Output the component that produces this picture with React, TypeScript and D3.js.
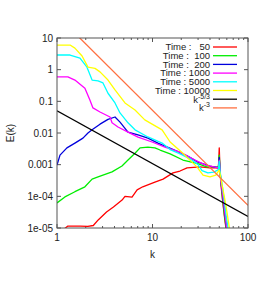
import React from 'react';
import * as d3 from 'd3';

type Pt = [number, number];

// spectra E(k)
const t50: Pt[] = [
  [1, 5e-6], [1.2, 9.5e-6], [1.3, 1.15e-5], [1.75, 1.15e-5], [2.1, 1.12e-5], [2.4, 1.2e-5],
  [2.7, 1.8e-5], [3.3, 3.2e-5], [3.9, 4.6e-5], [4.8, 7.6e-5], [5.15, 1.0e-4], [6.1, 9.5e-5],
  [6.9, 1.6e-4], [7.9, 2.0e-4], [10.6, 2.8e-4], [12.9, 3.5e-4], [16.4, 5.5e-4], [19.4, 6.3e-4],
  [23, 7.9e-4], [31.5, 8.5e-4], [40, 7.9e-4], [49, 7.9e-4], [50, 3.4e-3], [51, 6e-4],
  [52, 2.5e-4], [54, 8e-5], [57, 2e-5], [60, 6e-6],
];
const t100: Pt[] = [
  [1, 6.2e-5], [1.21, 9.6e-5], [1.54, 1.4e-4], [1.96, 2.0e-4], [2.33, 3.5e-4], [2.69, 4.1e-4],
  [3.77, 5.9e-4], [4.79, 9.1e-4], [5.54, 1.4e-3], [6.56, 2.3e-3], [7.4, 3.4e-3], [8.95, 3.6e-3],
  [10.6, 3.4e-3], [12, 2.9e-3], [15.3, 2.2e-3], [20.8, 1.4e-3], [29.2, 1.1e-3], [37, 8.5e-4],
  [49, 8.5e-4], [50, 2.0e-3], [51, 6.5e-4], [52, 3e-4], [54, 9e-5], [57, 2.2e-5], [60, 7e-6],
];
const t200: Pt[] = [
  [1, 9.8e-4], [1.075, 2.0e-3], [1.27, 3.4e-3], [1.54, 4.8e-3], [1.87, 6.9e-3], [2.11, 1.0e-2],
  [2.33, 1.26e-2], [2.82, 1.9e-2], [3.42, 2.7e-2], [4.05, 3.2e-2], [4.57, 2.2e-2], [5.54, 1.07e-2],
  [7.05, 8.7e-3], [8.95, 6.9e-3], [11.4, 4.8e-3], [12.6, 4.2e-3], [17, 2.9e-3], [23, 1.9e-3],
  [30, 1.2e-3], [40, 9e-4], [49, 7.9e-4], [50, 1.7e-3], [51, 6e-4], [52, 3e-4], [55, 8e-5],
  [58, 2e-5], [61, 6e-6],
];
const t1000: Pt[] = [
  [1, 0.59], [1.3, 0.59], [1.54, 0.47], [1.96, 0.26], [2.21, 0.11], [2.38, 0.062], [2.82, 0.046],
  [3.59, 0.032], [3.77, 0.021], [4.35, 0.0155], [5.54, 0.0107], [7.05, 0.0074], [9.9, 0.0052],
  [13.5, 0.0036], [19.4, 0.0025], [27.8, 0.0014], [35.5, 9.8e-4], [49, 7.9e-4], [50, 1.4e-3],
  [51, 6.5e-4], [52, 3e-4], [55, 8.5e-5], [58, 2.2e-5], [61, 6e-6],
];
const t5000: Pt[] = [
  [1, 2.9], [1.37, 2.9], [1.74, 2.3], [2.06, 1.2], [2.33, 0.47], [2.69, 0.44], [3.03, 0.38],
  [3.42, 0.18], [4.05, 0.089], [4.57, 0.043], [5.54, 0.021], [6.56, 0.0126], [8.95, 0.0075],
  [12.6, 0.0048], [15.3, 0.003], [20, 0.0021], [25, 0.0015], [30, 0.001], [33, 6.5e-4],
  [38, 5.5e-4], [44, 5.8e-4], [49, 7e-4], [50, 1.3e-3], [51, 6e-4], [53, 3e-4], [56, 9e-5],
  [59, 2.5e-5], [63, 7e-6],
];
const t10000: Pt[] = [
  [1, 6.0], [1.37, 6.0], [1.54, 4.8], [1.83, 2.7], [2.11, 1.2], [2.5, 1.1], [2.82, 0.85],
  [3.42, 0.47], [4.05, 0.23], [5.15, 0.089], [6.56, 0.053], [8.3, 0.026], [12.6, 0.0126],
  [15.3, 0.0052], [20.8, 0.0023], [29.2, 8.5e-4], [33.8, 4.7e-4], [40, 4.1e-4], [46, 4.7e-4],
  [50, 6.8e-4], [51, 5e-4], [53.5, 2.3e-4], [58.6, 5.4e-5], [65, 7e-6],
];

const seriesNames = ['Time :   50', 'Time :  100', 'Time :  200', 'Time : 1000', 'Time : 5000', 'Time : 10000'];
const seriesData = [t50, t100, t200, t1000, t5000, t10000];
const seriesColors = ['#ff0000', '#00ee00', '#0000dd', '#ff00ff', '#00ffff', '#ffff00'];

// reference power laws: C * k^p
const refNames = ['-5/3', '-3'];
const refCoef = [0.05, 52];
const refPow = [-5 / 3, -3];
const refColors = ['#000000', '#ff7040'];

const yTicks = [10, 1, 0.1, 0.01, 0.001, 1e-4, 1e-5];
const yTickLabels = ['10', '1', '0.1', '0.01', '0.001', '1e-04', '1e-05'];
const xTicks = [1, 10, 100];
const xTickLabels = ['1', '10', '100'];

const App = () => {
  const width = 273;
  const height = 285;
  const margin = { top: 38, right: 25, bottom: 57, left: 57 };
  const innerWidth = width - margin.left - margin.right;
  const innerHeight = height - margin.top - margin.bottom;

  const x = d3.scaleLog().domain([1, 100]).range([0, innerWidth]);
  const y = d3.scaleLog().domain([1e-5, 10]).range([innerHeight, 0]);

  const line = d3
    .line<Pt>()
    .x((d) => x(d[0]))
    .y((d) => y(d[1]));

  const xMinor: number[] = [];
  [1, 10].forEach((b) => {
    for (let i = 2; i <= 9; i++) xMinor.push(b * i);
  });

  const font = 'Liberation Sans, Arial, sans-serif';
  const axisColor = '#555';
  const legendY = (i: number) => 9 + i * 8.7;

  return (
    <svg
      width={width}
      height={height}
      style={{ position: 'absolute', left: 0, top: 0, background: '#fff' }}
    >
      <defs>
        <clipPath id="plot-clip">
          <rect x={0} y={0} width={innerWidth} height={innerHeight} />
        </clipPath>
      </defs>
      <g transform={`translate(${margin.left},${margin.top})`}>
        {/* ticks, mirrored on all sides, pointing inward */}
        {yTicks.map((t) => (
          <g key={'y' + t} stroke={axisColor} strokeWidth={1}>
            <line x1={0} x2={4} y1={y(t)} y2={y(t)} />
            <line x1={innerWidth - 4} x2={innerWidth} y1={y(t)} y2={y(t)} />
          </g>
        ))}
        {xTicks.map((t) => (
          <g key={'x' + t} stroke={axisColor} strokeWidth={1}>
            <line x1={x(t)} x2={x(t)} y1={innerHeight} y2={innerHeight - 4} />
            <line x1={x(t)} x2={x(t)} y1={0} y2={4} />
          </g>
        ))}
        {xMinor.map((t) => (
          <g key={'xm' + t} stroke={axisColor} strokeWidth={1}>
            <line x1={x(t)} x2={x(t)} y1={innerHeight} y2={innerHeight - 2} />
            <line x1={x(t)} x2={x(t)} y1={0} y2={2} />
          </g>
        ))}

        {/* tick labels */}
        {yTicks.map((t, i) => (
          <text
            key={'yl' + t}
            x={-4}
            y={y(t)}
            dy="0.35em"
            textAnchor="end"
            fontFamily={font}
            fontSize={10}
            fill="#222"
          >
            {yTickLabels[i]}
          </text>
        ))}
        {xTicks.map((t, i) => (
          <text
            key={'xl' + t}
            x={x(t)}
            y={innerHeight + 13}
            textAnchor="middle"
            fontFamily={font}
            fontSize={10}
            fill="#222"
          >
            {xTickLabels[i]}
          </text>
        ))}

        {/* axis titles */}
        <text
          x={x(10)}
          y={innerHeight + 30}
          textAnchor="middle"
          fontFamily={font}
          fontSize={10}
          fill="#222"
        >
          k
        </text>
        <text
          transform={`translate(${10 - margin.left},${innerHeight / 2}) rotate(-90)`}
          dy="0.35em"
          textAnchor="middle"
          fontFamily={font}
          fontSize={10}
          fill="#222"
        >
          E(k)
        </text>

        {/* curves */}
        <g clipPath="url(#plot-clip)" fill="none" strokeLinejoin="round">
          {seriesData.map((d, i) => (
            <path key={'s' + i} d={line(d) || ''} stroke={seriesColors[i]} strokeWidth={1.3} />
          ))}
          {refCoef.map((c, i) => {
            const pts: Pt[] = [1, 100].map((k) => [k, c * Math.pow(k, refPow[i])]);
            return (
              <path key={'r' + i} d={line(pts) || ''} stroke={refColors[i]} strokeWidth={1.3} />
            );
          })}
        </g>

        {/* legend */}
        {seriesNames.map((n, i) => (
          <g key={'lg' + i}>
            <text
              x={153}
              y={legendY(i)}
              dy="0.35em"
              textAnchor="end"
              fontFamily={font}
              fontSize={9.5}
              fill="#222"
              style={{ whiteSpace: 'pre' }}
            >
              {n}
            </text>
            <line
              x1={156}
              x2={180}
              y1={legendY(i)}
              y2={legendY(i)}
              stroke={seriesColors[i]}
              strokeWidth={1.3}
            />
          </g>
        ))}
        {refNames.map((n, i) => {
          const yy = legendY(6 + i);
          return (
            <g key={'lr' + i}>
              <text
                x={153}
                y={yy}
                dy="0.35em"
                textAnchor="end"
                fontFamily={font}
                fontSize={9.5}
                fill="#222"
              >
                k
                <tspan dy="-4" fontSize={7}>
                  {n}
                </tspan>
              </text>
              <line x1={156} x2={180} y1={yy} y2={yy} stroke={refColors[i]} strokeWidth={1.3} />
            </g>
          );
        })}

        {/* frame */}
        <rect
          x={0}
          y={0}
          width={innerWidth}
          height={innerHeight}
          fill="none"
          stroke={axisColor}
          strokeWidth={1}
        />
      </g>
    </svg>
  );
};

export default App;
